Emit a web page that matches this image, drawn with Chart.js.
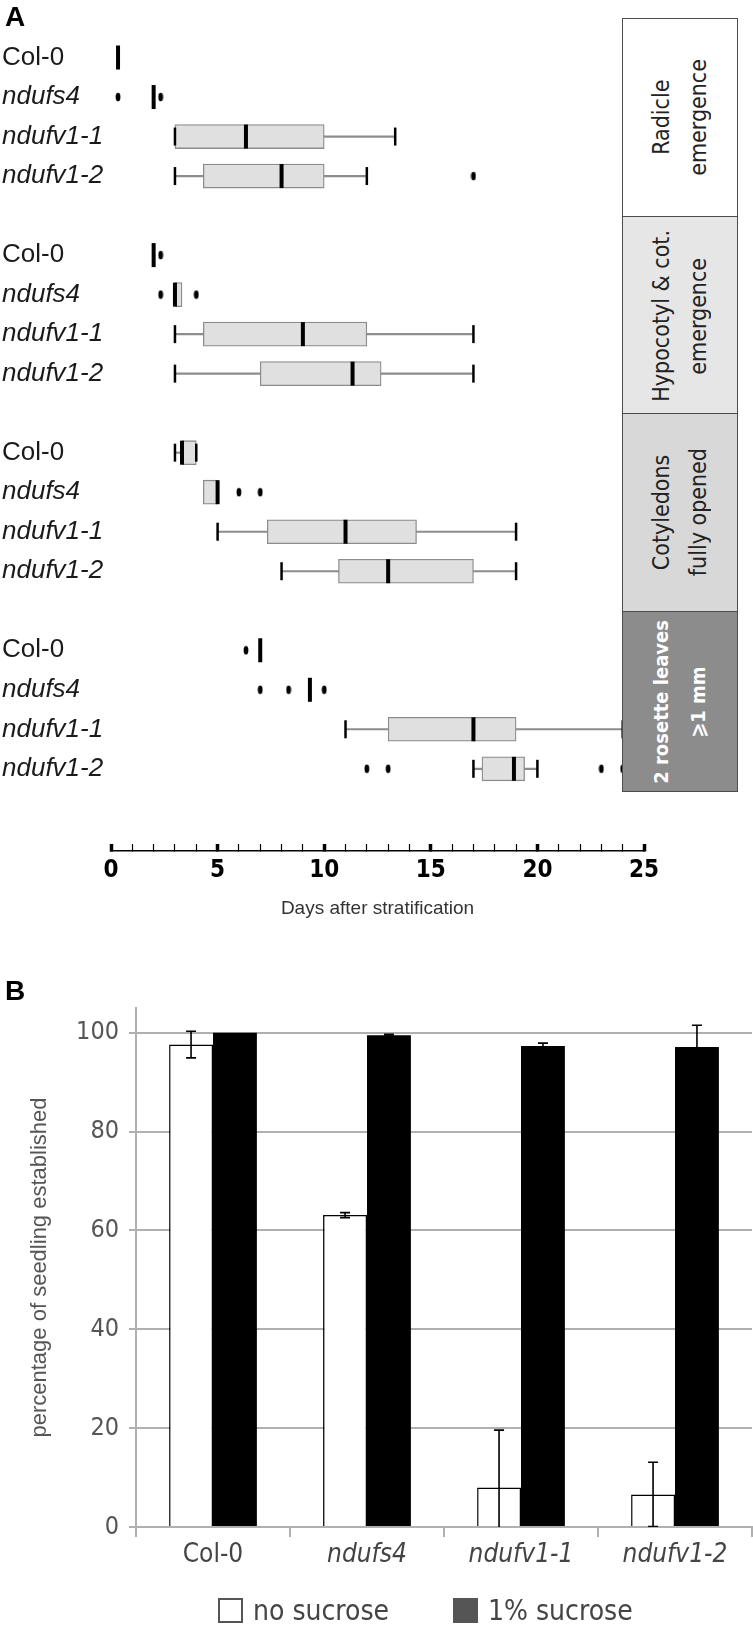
<!DOCTYPE html>
<html>
<head>
<meta charset="utf-8">
<title>Seedling development</title>
<script src="https://cdn.jsdelivr.net/npm/chart.js@4.4.1/dist/chart.umd.min.js"></script>
<style>
  html, body { margin: 0; padding: 0; background: #fff; }
  #page { position: relative; width: 753px; height: 1634px; overflow: hidden; font-family: "Liberation Sans", Arial, sans-serif; }
  .letter { position: absolute; left: 5px; font-weight: bold; font-size: 28px; color: #000; line-height: 1; z-index: 2; }
  .wrap { position: absolute; left: 0; width: 753px; }
  .stage { position: absolute; left: 622px; width: 116px; border: 1px solid #4d4d4d; box-sizing: border-box; display: flex; align-items: center; justify-content: center; z-index: 2; }
  .stage span { writing-mode: vertical-rl; transform: rotate(180deg); text-align: center; font-family: "Liberation Sans Narrow", "DejaVu Sans Condensed", sans-serif; font-size: 23px; line-height: 37px; color: #222; white-space: nowrap; }
  .stage.dark span { color: #fff; font-weight: bold; font-size: 20px; }
  .legend { position: absolute; top: 1596px; height: 28px; display: flex; align-items: center; z-index: 2;
    font-family: "Liberation Sans Narrow", "DejaVu Sans Condensed", sans-serif; font-size: 28px; color: #444; }
  .legend i { display: inline-block; width: 25px; height: 25px; box-sizing: border-box; margin-right: 10px; }
</style>
</head>
<body>
<div id="page">
  <div class="wrap" style="top:0;height:925px"><canvas id="chartA"></canvas></div>
  <div class="wrap" style="top:925px;height:709px"><canvas id="chartB"></canvas></div>
  <div class="letter" style="top:3px">A</div>
  <div class="letter" style="top:977px">B</div>
</div>
<script>
// ---- panel A: days after stratification, box plots ----
const genotypes = ['Col-0', 'ndufs4', 'ndufv1-1', 'ndufv1-2'];
const stageNames = [['Radicle', 'emergence'], ['Hypocotyl & cot.', 'emergence'], ['Cotyledons', 'fully opened'], ['2 rosette leaves', '⩾1 mm']];
// [min, q1, median, q3, max] per genotype, null = not drawn
const radicle = [[null, null, 0.33, null, null], [null, null, 2, null, null], [3, 3, 6.33, 10, 13.33], [3, 4.33, 8, 10, 12]];
const radicleOut = [[], [0.33, 2.33], [], [17]];
const hypocotyl = [[null, null, 2, null, null], [null, 3, 3, 3.33, null], [3, 4.33, 9, 12, 17], [3, 7, 11.33, 12.67, 17]];
const hypocotylOut = [[2.33], [2.33, 4], [], []];
const cotyledons = [[3, 3.33, 3.33, 4, 4], [null, 4.33, 5, 5, null], [5, 7.33, 11, 14.33, 19], [8, 10.67, 13, 17, 19]];
const cotyledonsOut = [[], [6, 7], [], []];
const rosette = [[null, null, 7, null, null], [null, null, 9.33, null, null], [11, 13, 17, 19, 24], [17, 17.4, 18.9, 19.4, 20]];
const rosetteOut = [[6.33], [7, 8.33, 10], [], [12, 13, 23, 24]];
const dayLabels = [0, 5, 10, 15, 20, 25];

// ---- panel B: percentage of seedling established ----
const lines = ['Col-0', 'ndufs4', 'ndufv1-1', 'ndufv1-2'];
const noSucrose = [97.6, 63.1, 8.0, 6.6];
const noSucroseErr = [2.7, 0.5, 11.6, 6.5];
const sucrose = [100, 99.5, 97.3, 97.1];
const sucroseErr = [0, 0.2, 0.6, 4.4];
const pctTicks = [0, 20, 40, 60, 80, 100];

const narrow = "'Liberation Sans Narrow', 'DejaVu Sans Condensed', sans-serif";
const sans = "'Liberation Sans', Arial, sans-serif";
Chart.defaults.animation = false;
Chart.defaults.events = [];

const summaries = [radicle, hypocotyl, cotyledons, rosette];
const outliers = [radicleOut, hypocotylOut, cotyledonsOut, rosetteOut];
const rowNames = [];
const boxes = [], whiskers = [], medians = [], caps = [], dots = [];
summaries.forEach((stage, s) => {
  stage.forEach(([mn, q1, md, q3, mx], g) => {
    const y = s * 5 + g;
    rowNames[y] = genotypes[g];
    if (q1 !== null && q3 > q1) boxes.push({ y, x: [q1, q3] });
    if (mn !== null) {
      if (mx > mn) whiskers.push({ y, x: [mn, mx] });
      caps.push({ x: mn, y }, { x: mx, y });
    }
    medians.push({ x: md, y });
    outliers[s][g].forEach(v => dots.push({ x: v, y }));
  });
});

// small upright ellipse used for outliers
const dot = document.createElement('canvas');
dot.width = 6; dot.height = 10;
const dc = dot.getContext('2d');
dc.fillStyle = '#000';
dc.beginPath(); dc.ellipse(3, 5, 2.4, 4.2, 0, 0, Math.PI * 2); dc.fill();

const chartA = new Chart(document.getElementById('chartA'), {
  type: 'bar',
  data: {
    datasets: [
      { type: 'scatter', data: dots, pointStyle: dot, pointRadius: 5, pointHoverRadius: 5 },
      { type: 'scatter', data: medians, pointStyle: 'line', pointRotation: 90, pointRadius: 12, pointHoverRadius: 12,
        pointBorderWidth: 4, pointBorderColor: '#000' },
      { type: 'scatter', data: caps, pointStyle: 'line', pointRotation: 90, pointRadius: 9, pointHoverRadius: 9,
        pointBorderWidth: 2.5, pointBorderColor: '#000' },
      { type: 'bar', data: boxes, grouped: false, barThickness: 24, backgroundColor: '#e0e0e0',
        borderColor: '#8c8c8c', borderWidth: 1.3, borderSkipped: false },
      { type: 'bar', data: whiskers, grouped: false, barThickness: 1.5, backgroundColor: '#8c8c8c', borderWidth: 0 }
    ]
  },
  options: {
    indexAxis: 'y',
    responsive: true,
    maintainAspectRatio: false,
    layout: { autoPadding: false, padding: { top: 18, left: 2, right: 109, bottom: 0 } },
    plugins: { legend: { display: false }, tooltip: { enabled: false } },
    scales: {
      y: {
        type: 'linear', reverse: true, offset: false, min: -1, max: 20.08,
        afterBuildTicks: s => { s.ticks = rowNames.map((n, i) => ({ value: i })).filter(t => rowNames[t.value]); },
        afterFit: s => { s.width = 109; s.paddingTop = 0; s.paddingBottom = 0; },
        grid: { display: false }, border: { display: false },
        ticks: {
          crossAlign: 'far', color: '#1a1a1a',
          callback: v => rowNames[v] || '',
          font: ctx => ({ family: sans, size: 26, style: ctx.tick && rowNames[ctx.tick.value] !== 'Col-0' ? 'italic' : 'normal' })
        }
      },
      x: {
        type: 'linear', min: 0, max: 25,
        afterFit: s => { s.height = 74; },
        border: { display: true, color: '#000', width: 1.5 },
        grid: { drawOnChartArea: false, drawTicks: true, tickLength: -7, tickColor: '#000',
          tickWidth: ctx => (ctx.tick && dayLabels.includes(ctx.tick.value) ? 3.5 : 1.2) },
        ticks: { stepSize: 1, autoSkip: false, maxRotation: 0, padding: 12, color: '#000',
          font: { family: narrow, size: 24, weight: 'bold' },
          callback: v => (dayLabels.includes(v) ? String(v) : '') },
        title: { display: true, text: 'Days after stratification', color: '#333',
          font: { family: sans, size: 19 }, padding: { top: 0, bottom: 5 } }
      }
    }
  }
});

// stage boxes on the right, aligned on the row scale
const stageFill = ['#ffffff', '#e6e6e6', '#d8d8d8', '#8c8c8c'];
const yA = chartA.scales.y;
const edges = [-1, 4, 9, 14, 18.55].map(v => yA.getPixelForValue(v));
const page = document.getElementById('page');
stageNames.forEach((txt, s) => {
  const d = document.createElement('div');
  d.className = 'stage' + (s === 3 ? ' dark' : '');
  d.style.top = Math.round(edges[s]) + 'px';
  d.style.height = Math.round(edges[s + 1] - edges[s] + 1) + 'px';
  d.style.background = stageFill[s];
  d.innerHTML = '<span>' + txt.join('<br>') + '</span>';
  page.appendChild(d);
});

// error bars for panel B
const errorBars = {
  id: 'errorBars',
  afterDatasetsDraw(chart) {
    const { ctx, chartArea, scales: { y } } = chart;
    ctx.save();
    ctx.beginPath();
    ctx.rect(chartArea.left, chartArea.top, chartArea.width, chartArea.height);
    ctx.clip();
    ctx.strokeStyle = '#000';
    ctx.lineWidth = 1.6;
    chart.data.datasets.forEach((ds, di) => {
      chart.getDatasetMeta(di).data.forEach((bar, i) => {
        const e = ds.errors[i];
        if (!e) return;
        const top = y.getPixelForValue(ds.data[i] + e);
        const bot = y.getPixelForValue(ds.data[i] - e);
        ctx.beginPath();
        ctx.moveTo(bar.x, top); ctx.lineTo(bar.x, bot);
        ctx.moveTo(bar.x - 5, top); ctx.lineTo(bar.x + 5, top);
        ctx.moveTo(bar.x - 5, bot); ctx.lineTo(bar.x + 5, bot);
        ctx.stroke();
      });
    });
    ctx.restore();
  }
};

const chartB = new Chart(document.getElementById('chartB'), {
  type: 'bar',
  data: {
    labels: lines,
    datasets: [
      { label: 'no sucrose', data: noSucrose, errors: noSucroseErr, backgroundColor: '#fff', borderColor: '#000', borderWidth: 1.5 },
      { label: '1% sucrose', data: sucrose, errors: sucroseErr, backgroundColor: '#000', borderColor: '#000', borderWidth: 0 }
    ]
  },
  plugins: [errorBars],
  options: {
    responsive: true,
    maintainAspectRatio: false,
    categoryPercentage: 0.57,
    barPercentage: 1,
    layout: { padding: { top: 83, left: 23, right: 1, bottom: 47 } },
    plugins: { tooltip: { enabled: false }, legend: { display: false } },
    scales: {
      y: {
        min: 0, max: 105,
        afterFit: s => { s.width = 113; },
        afterBuildTicks: s => { s.ticks = pctTicks.map(v => ({ value: v })); },
        border: { color: '#b0b0b0', width: 2 },
        grid: { color: '#b0b0b0', lineWidth: 2, tickLength: 7, tickColor: '#b0b0b0' },
        ticks: { padding: 10, color: '#555', font: { family: narrow, size: 25 } },
        title: { display: true, text: 'percentage of seedling established', color: '#555',
          font: { family: sans, size: 22 }, padding: { top: 4, bottom: 4 } }
      },
      x: {
        afterFit: s => { s.height = 60; },
        border: { color: '#b0b0b0', width: 2 },
        grid: { drawOnChartArea: false, offset: true, tickLength: 10, color: '#b0b0b0', lineWidth: 2 },
        ticks: { padding: 3, color: '#444',
          font: ctx => ({ family: narrow, size: 26, style: ctx.index > 0 ? 'italic' : 'normal' }) }
      }
    }
  }
});

// legend under panel B, built from the dataset labels
const legendX = [218, 453];
chartB.data.datasets.forEach((ds, i) => {
  const d = document.createElement('div');
  d.className = 'legend';
  d.style.left = legendX[i] + 'px';
  const swatch = i === 0 ? 'background:#fff;border:2.5px solid #555' : 'background:#555';
  d.innerHTML = '<i style="' + swatch + '"></i><span>' + ds.label + '</span>';
  page.appendChild(d);
});
</script>
</body>
</html>
